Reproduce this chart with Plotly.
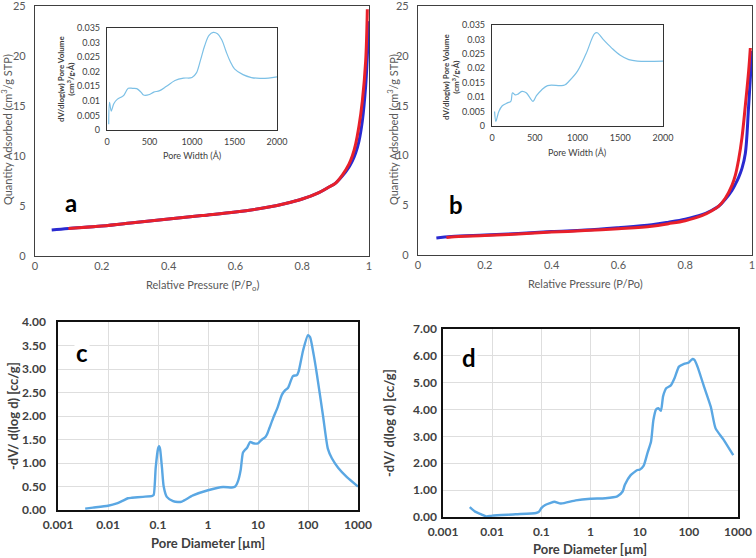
import plotly.graph_objects as go

W, H = 756, 558

# panel a: N2 isotherm (adsorption blue, desorption red)
a_blue_x = [0.05, 0.1, 0.2, 0.3, 0.4, 0.5, 0.6, 0.7, 0.75, 0.8, 0.85, 0.88, 0.9, 0.92, 0.94, 0.95, 0.96, 0.97, 0.98, 0.99, 0.995, 1.0]
a_blue_y = [2.6, 2.75, 3.0, 3.35, 3.7, 4.05, 4.4, 4.9, 5.25, 5.7, 6.35, 6.9, 7.3, 8.0, 8.9, 9.5, 10.3, 11.5, 13.5, 17.0, 20.0, 23.5]
a_red_x = [0.1, 0.2, 0.3, 0.4, 0.5, 0.6, 0.7, 0.75, 0.8, 0.85, 0.88, 0.9, 0.92, 0.94, 0.95, 0.96, 0.97, 0.98, 0.99, 0.995]
a_red_y = [2.75, 3.0, 3.35, 3.7, 4.05, 4.4, 4.9, 5.25, 5.7, 6.35, 6.9, 7.3, 8.1, 9.2, 10.0, 11.2, 13.0, 15.5, 19.5, 24.7]

# panel b
b_blue_x = [0.055, 0.1, 0.2, 0.3, 0.4, 0.5, 0.6, 0.7, 0.75, 0.8, 0.85, 0.88, 0.9, 0.92, 0.94, 0.95, 0.96, 0.97, 0.98, 0.99, 1.0]
b_blue_y = [1.7, 1.85, 2.0, 2.15, 2.35, 2.5, 2.75, 3.05, 3.3, 3.6, 4.05, 4.5, 4.9, 5.6, 6.5, 7.1, 7.8, 8.7, 10.2, 15.0, 20.5]
b_red_x = [0.085, 0.1, 0.2, 0.3, 0.4, 0.5, 0.6, 0.7, 0.75, 0.8, 0.85, 0.88, 0.9, 0.92, 0.94, 0.95, 0.96, 0.97, 0.98, 0.99, 0.995]
b_red_y = [1.75, 1.8, 1.95, 2.1, 2.3, 2.45, 2.65, 2.9, 3.15, 3.45, 3.95, 4.45, 4.9, 5.7, 7.0, 8.0, 9.6, 11.8, 15.0, 18.5, 20.8]

# insets: pore width distribution
ia_x = [20, 30, 50, 80, 120, 180, 200, 250, 300, 350, 400, 430, 500, 550, 620, 700, 800, 900, 1000, 1050, 1100, 1150, 1200, 1250, 1300, 1350, 1400, 1450, 1500, 1600, 1700, 1800, 1900, 2000]
ia_y = [0.002, 0.0095, 0.0065, 0.009, 0.0105, 0.0115, 0.012, 0.0143, 0.0143, 0.0142, 0.013, 0.012, 0.0122, 0.013, 0.0135, 0.015, 0.017, 0.0178, 0.018, 0.0195, 0.024, 0.029, 0.0325, 0.0335, 0.033, 0.031, 0.027, 0.0235, 0.021, 0.019, 0.018, 0.0177, 0.0178, 0.0182]
ib_x = [30, 45, 60, 80, 120, 180, 220, 240, 270, 300, 350, 400, 450, 480, 520, 580, 650, 800, 850, 900, 1000, 1100, 1200, 1230, 1300, 1400, 1500, 1600, 1700, 2000]
ib_y = [0.005, 0.0015, 0.003, 0.005, 0.007, 0.008, 0.0085, 0.0115, 0.0108, 0.011, 0.012, 0.0115, 0.0095, 0.0085, 0.0105, 0.0125, 0.014, 0.014, 0.0142, 0.0155, 0.019, 0.025, 0.032, 0.0323, 0.030, 0.027, 0.0245, 0.023, 0.0225, 0.0225]

# panel c, d: mercury intrusion
c_x = [0.0035, 0.005, 0.01, 0.015, 0.02, 0.025, 0.03, 0.05, 0.077, 0.082, 0.09, 0.1, 0.105, 0.11, 0.12, 0.13, 0.15, 0.2, 0.25, 0.3, 0.5, 1, 2, 3, 3.5, 4, 4.5, 5, 5.5, 6, 7, 8, 10, 12, 14, 15, 17, 20, 25, 30, 35, 40, 50, 60, 65, 80, 100, 110, 130, 150, 200, 250, 300, 400, 600, 1000]
c_y = [0.03, 0.05, 0.09, 0.14, 0.2, 0.25, 0.26, 0.28, 0.3, 0.32, 0.9, 1.3, 1.36, 1.3, 0.9, 0.5, 0.28, 0.19, 0.17, 0.18, 0.31, 0.42, 0.49, 0.48, 0.5, 0.62, 0.85, 1.22, 1.28, 1.32, 1.45, 1.42, 1.42, 1.5, 1.55, 1.6, 1.75, 1.95, 2.2, 2.45, 2.55, 2.6, 2.85, 2.87, 2.95, 3.4, 3.72, 3.68, 3.3, 2.9, 2.0, 1.3, 1.1, 0.9, 0.7, 0.5]
d_x = [0.0035, 0.0045, 0.006, 0.0076, 0.01, 0.03, 0.078, 0.09, 0.1, 0.12, 0.15, 0.185, 0.25, 0.5, 1, 2, 3.5, 4.5, 5, 6.5, 9, 10, 12, 14.5, 17, 19, 21.5, 24, 27, 30, 35, 43, 52, 63, 80, 100, 117, 130, 150, 200, 280, 350, 500, 800]
d_y = [0.37, 0.2, 0.1, 0.02, 0.05, 0.1, 0.15, 0.2, 0.33, 0.45, 0.52, 0.57, 0.5, 0.62, 0.68, 0.7, 0.77, 0.95, 1.2, 1.55, 1.75, 1.76, 1.9, 2.4, 2.8, 3.6, 4.0, 4.05, 3.95, 4.5, 4.8, 4.9, 5.2, 5.6, 5.7, 5.75, 5.88, 5.85, 5.6, 4.9, 4.1, 3.3, 2.9, 2.3]

log_ticks = [0.001, 0.01, 0.1, 1, 10, 100, 1000]
log_text = ["0.001", "0.01", "0.1", "1", "10", "100", "1000"]
iso_yticks = [0, 5, 10, 15, 20, 25]
iso_xticks = [0, 0.2, 0.4, 0.6, 0.8, 1]
inset_yticks = [0, 0.005, 0.01, 0.015, 0.02, 0.025, 0.03, 0.035]
inset_ytext = ["0", "0.005", "0.01", "0.015", "0.02", "0.025", "0.03", "0.035"]
inset_xticks = [0, 500, 1000, 1500, 2000]


def px_x(a, b):
    return [a / W, b / W]


def px_y(top, bottom):
    return [1 - bottom / H, 1 - top / H]


RED = "#e8202a"
BLUE = "#2a2ad0"
LBLUE = "#5aa7e3"
IBLUE = "#7cc0e6"
FONT = "Lato, Open Sans, Arial"

fig = go.Figure()
fig.add_trace(go.Scatter(x=a_blue_x, y=a_blue_y, mode="lines", line=dict(color=BLUE, width=3, shape="spline"), xaxis="x", yaxis="y"))
fig.add_trace(go.Scatter(x=a_red_x, y=a_red_y, mode="lines", line=dict(color=RED, width=3, shape="spline"), xaxis="x", yaxis="y"))
fig.add_trace(go.Scatter(x=b_blue_x, y=b_blue_y, mode="lines", line=dict(color=BLUE, width=3, shape="spline"), xaxis="x2", yaxis="y2"))
fig.add_trace(go.Scatter(x=b_red_x, y=b_red_y, mode="lines", line=dict(color=RED, width=3, shape="spline"), xaxis="x2", yaxis="y2"))
fig.add_trace(go.Scatter(x=c_x, y=c_y, mode="lines", line=dict(color=LBLUE, width=2.4, shape="spline", smoothing=0.6), xaxis="x3", yaxis="y3"))
fig.add_trace(go.Scatter(x=d_x, y=d_y, mode="lines", line=dict(color=LBLUE, width=2.4, shape="spline", smoothing=0.6), xaxis="x4", yaxis="y4"))
fig.add_trace(go.Scatter(x=ia_x, y=ia_y, mode="lines", line=dict(color=IBLUE, width=1.2, shape="spline"), xaxis="x5", yaxis="y5"))
fig.add_trace(go.Scatter(x=ib_x, y=ib_y, mode="lines", line=dict(color=IBLUE, width=1.2, shape="spline"), xaxis="x6", yaxis="y6"))

top_tick = dict(family=FONT, size=11, color="#595959")
bot_tick = dict(family=FONT, size=12, color="#404040", weight="bold")
ins_tick = dict(family=FONT, size=9, color="#404040")

COMMON = dict(showgrid=False, zeroline=False, showline=True, mirror=True, ticks="",
              automargin=False, ticklabeloverflow="allow", fixedrange=True)


def iso_x(dom, anchor):
    return dict(COMMON, domain=dom, range=[0, 1], tickvals=iso_xticks, linecolor="#404040",
                linewidth=1.3, tickfont=top_tick, anchor=anchor, ticklabelstandoff=0)


def iso_y(dom, anchor, standoff):
    return dict(COMMON, domain=dom, range=[0, 25.02], tickvals=iso_yticks, linecolor="#404040",
                linewidth=1.3, tickfont=top_tick, anchor=anchor, ticklabelstandoff=standoff)


def log_x(dom, anchor):
    return dict(COMMON, domain=dom, type="log", range=[-3, 3], tickvals=log_ticks,
                ticktext=log_text, showgrid=True, gridcolor="#dedede", linecolor="#111111",
                linewidth=1.5, tickfont=bot_tick, anchor=anchor, ticklabelstandoff=3)


def lin_y(dom, anchor, top, step, standoff):
    return dict(COMMON, domain=dom, range=[0, top], dtick=step, tickformat=".2f", showgrid=True,
                gridcolor="#dedede", linecolor="#111111", linewidth=1.5, tickfont=bot_tick,
                anchor=anchor, ticklabelstandoff=standoff)


def ins_x(dom, anchor):
    return dict(COMMON, domain=dom, range=[0, 2000], tickvals=inset_xticks, linecolor="#333333",
                linewidth=1.2, tickfont=ins_tick, anchor=anchor, ticklabelstandoff=3)


def ins_y(dom, anchor):
    return dict(COMMON, domain=dom, range=[0, 0.035], tickvals=inset_yticks, ticktext=inset_ytext,
                linecolor="#333333", linewidth=1.2, tickfont=ins_tick, anchor=anchor,
                ticklabelstandoff=4)


fig.update_layout(
    width=W, height=H, margin=dict(l=0, r=0, t=0, b=0),
    paper_bgcolor="white", plot_bgcolor="rgba(0,0,0,0)", showlegend=False,
    xaxis=iso_x(px_x(35, 369), "y"),
    yaxis=iso_y(px_y(6, 256), "x", 6),
    xaxis2=iso_x(px_x(418, 752), "y2"),
    yaxis2=iso_y(px_y(6, 255), "x2", 6),
    xaxis3=log_x(px_x(58, 358), "y3"),
    yaxis3=lin_y(px_y(322, 510), "x3", 4, 0.5, 8),
    xaxis4=log_x(px_x(443, 738), "y4"),
    yaxis4=lin_y(px_y(329, 517), "x4", 7, 1, 2),
    xaxis5=ins_x(px_x(107, 277), "y5"),
    yaxis5=ins_y(px_y(28, 130), "x5"),
    xaxis6=ins_x(px_x(492, 663), "y6"),
    yaxis6=ins_y(px_y(25, 126), "x6"),
)


def note(text, x, y, size, color="#404040", bold=False, angle=0, bg=None):
    fig.add_annotation(text=text, x=x / W, y=1 - y / H, xref="paper", yref="paper",
                       xanchor="center", yanchor="middle", showarrow=False, textangle=angle,
                       bgcolor=bg,
                       font=dict(family=FONT, size=size, color=color,
                                 weight="bold" if bold else "normal"))


# axis titles
note("Quantity Adsorbed (cm<sup>3</sup>/g STP)", 6, 130, 11, "#595959", angle=-90)
note("Relative Pressure (P/P<sub>o</sub>)", 202, 285, 11, "#595959")
note("Quantity Adsorbed (cm<sup>3</sup>/g STP)", 392, 130, 11, "#595959", angle=-90)
note("Relative Pressure (P/Po)", 585, 283, 11, "#595959")
note("dV/dlog(w) Pore Volume<br>(cm<sup>3</sup>/g·Å)", 66, 79, 8, "#404040", bold=True, angle=-90)
note("Pore Width (Å)", 192, 155, 9, "#404040")
note("dV/dlog(w) Pore Volume<br>(cm<sup>3</sup>/g·Å)", 451, 76, 8, "#404040", bold=True, angle=-90)
note("Pore Width (Å)", 577, 152, 9, "#404040")
note("-dV/ d(log d) [cc/g]", 13, 416, 13, "#404040", bold=True, angle=-90)
note("Pore Diameter [µm]", 208, 543, 13, "#404040", bold=True)
note("-dV/ d(log d) [cc/g]", 389, 423, 13, "#404040", bold=True, angle=-90)
note("Pore Diameter [µm]", 590, 549, 13, "#404040", bold=True)

# panel letters
note("a", 71, 202, 24, "black", bold=True)
note("b", 456, 205, 24, "black", bold=True)
note("c", 82, 352, 24, "black", bold=True, bg="white")
note("d", 469, 358, 24, "black", bold=True, bg="white")

# the page body has a default 8px margin; drop it so the figure fills the window
fig.write_html("out.html", config={"displayModeBar": False},
               post_script="document.body.style.margin='0';document.body.style.overflow='hidden';")
